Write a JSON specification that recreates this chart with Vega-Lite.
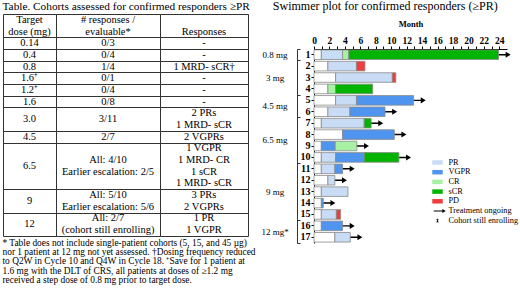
{
  "$schema": "https://vega.github.io/schema/vega-lite/v6.json",
  "background": "white",
  "padding": {"left": 2, "top": 0, "right": 0, "bottom": 0},
  "spacing": 4,
  "datasets": {
    "table": [
      {"col": "dose", "line": 0.5, "text": "Target"},
      {"col": "dose", "line": 1.5, "text": "dose (mg)"},
      {"col": "dose", "line": 2.5, "text": "0.14"},
      {"col": "dose", "line": 3.5, "text": "0.4"},
      {"col": "dose", "line": 4.5, "text": "0.8"},
      {"col": "dose", "line": 5.5, "text": "1.6⁺"},
      {"col": "dose", "line": 6.5, "text": "1.2⁺"},
      {"col": "dose", "line": 7.5, "text": "1.6"},
      {"col": "dose", "line": 9, "text": "3.0"},
      {"col": "dose", "line": 10.5, "text": "4.5"},
      {"col": "dose", "line": 13, "text": "6.5"},
      {"col": "dose", "line": 16, "text": "9"},
      {"col": "dose", "line": 18, "text": "12"},
      {"col": "n", "line": 0.5, "text": "# responses /"},
      {"col": "n", "line": 1.5, "text": "evaluable*"},
      {"col": "n", "line": 2.5, "text": "0/3"},
      {"col": "n", "line": 3.5, "text": "0/4"},
      {"col": "n", "line": 4.5, "text": "1/4"},
      {"col": "n", "line": 5.5, "text": "0/1"},
      {"col": "n", "line": 6.5, "text": "0/4"},
      {"col": "n", "line": 7.5, "text": "0/8"},
      {"col": "n", "line": 9, "text": "3/11"},
      {"col": "n", "line": 10.5, "text": "2/7"},
      {"col": "n", "line": 12.5, "text": "All: 4/10"},
      {"col": "n", "line": 13.5, "text": "Earlier escalation: 2/5"},
      {"col": "n", "line": 15.5, "text": "All: 5/10"},
      {"col": "n", "line": 16.5, "text": "Earlier escalation: 5/6"},
      {"col": "n", "line": 17.5, "text": "All: 2/7"},
      {"col": "n", "line": 18.5, "text": "(cohort still enrolling)"},
      {"col": "resp", "line": 1.5, "text": "Responses"},
      {"col": "resp", "line": 2.5, "text": "-"},
      {"col": "resp", "line": 3.5, "text": "-"},
      {"col": "resp", "line": 4.5, "text": "1 MRD- sCR†"},
      {"col": "resp", "line": 5.5, "text": "-"},
      {"col": "resp", "line": 6.5, "text": "-"},
      {"col": "resp", "line": 7.5, "text": "-"},
      {"col": "resp", "line": 8.5, "text": "2 PRs"},
      {"col": "resp", "line": 9.5, "text": "1 MRD- sCR"},
      {"col": "resp", "line": 10.5, "text": "2 VGPRs"},
      {"col": "resp", "line": 11.5, "text": "1 VGPR"},
      {"col": "resp", "line": 12.5, "text": "1 MRD- CR"},
      {"col": "resp", "line": 13.5, "text": "1 sCR"},
      {"col": "resp", "line": 14.5, "text": "1 MRD- sCR"},
      {"col": "resp", "line": 15.5, "text": "3 PRs"},
      {"col": "resp", "line": 16.5, "text": "2 VGPRs"},
      {"col": "resp", "line": 17.5, "text": "1 PR"},
      {"col": "resp", "line": 18.5, "text": "1 VGPR"}
    ],
    "groups": [
      {"dose": "0.8 mg", "mid": 1},
      {"dose": "3 mg", "mid": 3},
      {"dose": "4.5 mg", "mid": 5.5},
      {"dose": "6.5 mg", "mid": 8.5},
      {"dose": "9 mg", "mid": 13},
      {"dose": "12 mg*", "mid": 16.5}
    ],
    "segments": [
      {"pt": 1, "status": "none", "start": 0, "end": 0.95},
      {"pt": 1, "status": "PR", "start": 0.95, "end": 3.7},
      {"pt": 1, "status": "CR", "start": 3.7, "end": 4.5},
      {"pt": 1, "status": "sCR", "start": 4.5, "end": 23.9},
      {"pt": 2, "status": "none", "start": 0, "end": 1.8},
      {"pt": 2, "status": "PR", "start": 1.8, "end": 5.5},
      {"pt": 2, "status": "PD", "start": 5.5, "end": 6.6},
      {"pt": 3, "status": "none", "start": 0, "end": 2.8},
      {"pt": 3, "status": "PR", "start": 2.8, "end": 10.15},
      {"pt": 3, "status": "PD", "start": 10.15, "end": 10.6},
      {"pt": 4, "status": "none", "start": 0, "end": 1.8},
      {"pt": 4, "status": "CR", "start": 1.8, "end": 2.8},
      {"pt": 4, "status": "sCR", "start": 2.8, "end": 7.6},
      {"pt": 5, "status": "none", "start": 0, "end": 2.8},
      {"pt": 5, "status": "PR", "start": 2.8, "end": 5.5},
      {"pt": 5, "status": "VGPR", "start": 5.5, "end": 12.9},
      {"pt": 6, "status": "none", "start": 0, "end": 1.8},
      {"pt": 6, "status": "PR", "start": 1.8, "end": 4.65},
      {"pt": 6, "status": "VGPR", "start": 4.65, "end": 9.2},
      {"pt": 7, "status": "none", "start": 0, "end": 0.95},
      {"pt": 7, "status": "PR", "start": 0.95, "end": 6.5},
      {"pt": 7, "status": "sCR", "start": 6.5, "end": 7.4},
      {"pt": 8, "status": "none", "start": 0, "end": 3.7},
      {"pt": 8, "status": "VGPR", "start": 3.7, "end": 10.4},
      {"pt": 9, "status": "none", "start": 0, "end": 0.95},
      {"pt": 9, "status": "VGPR", "start": 0.95, "end": 2.75},
      {"pt": 9, "status": "CR", "start": 2.75, "end": 5.55},
      {"pt": 10, "status": "none", "start": 0, "end": 0.95},
      {"pt": 10, "status": "PR", "start": 0.95, "end": 2.8},
      {"pt": 10, "status": "VGPR", "start": 2.8, "end": 6.5},
      {"pt": 10, "status": "sCR", "start": 6.5, "end": 11.0},
      {"pt": 11, "status": "none", "start": 0, "end": 0.95},
      {"pt": 11, "status": "PR", "start": 0.95, "end": 2.7},
      {"pt": 11, "status": "VGPR", "start": 2.7, "end": 3.7},
      {"pt": 12, "status": "none", "start": 0, "end": 1.8},
      {"pt": 12, "status": "PR", "start": 1.8, "end": 2.7},
      {"pt": 13, "status": "none", "start": 0, "end": 0.95},
      {"pt": 13, "status": "PR", "start": 0.95, "end": 4.4},
      {"pt": 14, "status": "none", "start": 0, "end": 0.95},
      {"pt": 14, "status": "VGPR", "start": 0.95, "end": 1.2},
      {"pt": 15, "status": "none", "start": 0, "end": 0.95},
      {"pt": 15, "status": "PR", "start": 0.95, "end": 2.9},
      {"pt": 15, "status": "PD", "start": 2.9, "end": 3.45},
      {"pt": 16, "status": "none", "start": 0, "end": 0.95},
      {"pt": 16, "status": "VGPR", "start": 0.95, "end": 3.7},
      {"pt": 17, "status": "none", "start": 0, "end": 2.7},
      {"pt": 17, "status": "PR", "start": 2.7, "end": 4.7}
    ],
    "arrows": [
      {"pt": 1, "end": 23.9, "status": "Treatment ongoing"},
      {"pt": 5, "end": 12.9, "status": "Treatment ongoing"},
      {"pt": 6, "end": 9.2, "status": "Treatment ongoing"},
      {"pt": 7, "end": 7.4, "status": "Treatment ongoing"},
      {"pt": 8, "end": 10.4, "status": "Treatment ongoing"},
      {"pt": 9, "end": 5.55, "status": "Treatment ongoing"},
      {"pt": 10, "end": 11.0, "status": "Treatment ongoing"},
      {"pt": 11, "end": 3.7, "status": "Treatment ongoing"},
      {"pt": 12, "end": 2.7, "status": "Treatment ongoing"},
      {"pt": 14, "end": 1.2, "status": "Treatment ongoing"},
      {"pt": 16, "end": 3.7, "status": "Treatment ongoing"},
      {"pt": 17, "end": 4.7, "status": "Treatment ongoing"}
    ],
    "spacer": [{}]
  },
  "hconcat": [
    {
      "title": {"text": "Table. Cohorts assessed for confirmed responders ≥PR", "anchor": "start", "fontSize": 11.3, "offset": 1},
      "vconcat": [
        {
          "title": {
            "text": [
              "* Table does not include single-patient cohorts (5, 15, and 45 µg)",
              "nor 1 patient at 12 mg not yet assessed. †Dosing frequency reduced",
              "to Q2W in Cycle 10 and Q4W in Cycle 18. ⁺Save for 1 patient at",
              "1.6 mg with the DLT of CRS, all patients at doses of ≥1.2 mg",
              "received a step dose of 0.8 mg prior to target dose."
            ],
            "orient": "bottom", "anchor": "start", "fontSize": 9.4, "lineHeight": 9.4, "offset": 2
          },
          "bounds": "flush",
          "spacing": 0,
          "hconcat": [
            {
              "width": 53, "height": 222,
              "view": {"stroke": "#333", "strokeWidth": 1},
              "data": {"name": "table"},
              "transform": [{"filter": "datum.col === 'dose'"}],
              "mark": {"type": "text", "fontSize": 10.5, "font": "Liberation Serif", "color": "black"},
              "encoding": {
                "y": {"field": "line", "type": "quantitative", "scale": {"domain": [0, 19], "reverse": true, "nice": false, "zero": false},
                  "axis": {"values": [2, 3, 4, 5, 6, 7, 8, 10, 11, 15, 17], "grid": true, "gridColor": "#333", "gridOpacity": 1, "labels": false, "ticks": false, "domain": false, "title": null}},
                "text": {"field": "text", "type": "nominal"}
              }
            },
            {
              "width": 104, "height": 222,
              "view": {"stroke": "#333", "strokeWidth": 1},
              "data": {"name": "table"},
              "transform": [{"filter": "datum.col === 'n'"}],
              "mark": {"type": "text", "fontSize": 10.5, "font": "Liberation Serif", "color": "black"},
              "encoding": {
                "y": {"field": "line", "type": "quantitative", "scale": {"domain": [0, 19], "reverse": true, "nice": false, "zero": false},
                  "axis": {"values": [2, 3, 4, 5, 6, 7, 8, 10, 11, 15, 17], "grid": true, "gridColor": "#333", "gridOpacity": 1, "labels": false, "ticks": false, "domain": false, "title": null}},
                "text": {"field": "text", "type": "nominal"}
              }
            },
            {
              "width": 88, "height": 222,
              "view": {"stroke": "#333", "strokeWidth": 1},
              "data": {"name": "table"},
              "transform": [{"filter": "datum.col === 'resp'"}],
              "mark": {"type": "text", "fontSize": 10.5, "font": "Liberation Serif", "color": "black"},
              "encoding": {
                "y": {"field": "line", "type": "quantitative", "scale": {"domain": [0, 19], "reverse": true, "nice": false, "zero": false},
                  "axis": {"values": [2, 3, 4, 5, 6, 7, 8, 10, 11, 15, 17], "grid": true, "gridColor": "#333", "gridOpacity": 1, "labels": false, "ticks": false, "domain": false, "title": null}},
                "text": {"field": "text", "type": "nominal"}
              }
            }
          ]
        }
      ]
    },
    {
      "title": {"text": "Swimmer plot for confirmed responders (≥PR)", "anchor": "middle", "fontSize": 12, "offset": 1},
      "spacing": 4,
      "vconcat": [
        {
          "width": 1, "height": 1,
          "data": {"name": "spacer"},
          "mark": {"type": "point", "size": 0, "opacity": 0},
          "encoding": {}
        },
        {
          "bounds": "flush",
          "spacing": 24,
          "hconcat": [
            {
              "width": 30, "height": 194,
              "data": {"name": "groups"},
              "mark": {"type": "text", "fontSize": 9, "font": "Liberation Serif", "color": "black"},
              "encoding": {
                "y": {"field": "mid", "type": "quantitative", "scale": {"domain": [0.5, 17.5], "reverse": true, "nice": false, "zero": false},
                  "axis": {"orient": "right", "values": [0.5, 1.5, 4.5, 6.5, 10.5, 15.5, 17.5], "labels": false, "ticks": true, "tickSize": 3, "domain": true, "grid": false, "title": null, "offset": 7, "domainColor": "#333", "tickColor": "#333"}},
                "text": {"field": "dose", "type": "nominal"}
              }
            },
            {
              "width": 193, "height": 194,
              "layer": [
                {
                  "data": {"name": "arrows"},
                  "mark": {"type": "point", "filled": true, "size": 121, "opacity": 1, "strokeWidth": 0},
                  "encoding": {
                    "x": {"field": "end", "type": "quantitative", "scale": {"domain": [0, 25], "nice": false},
                      "axis": {"orient": "top", "values": [0, 1, 2, 3, 4, 5, 6, 7, 8, 9, 10, 11, 12, 13, 14, 15, 16, 17, 18, 19, 20, 21, 22, 23, 24],
                        "labelExpr": "datum.value % 2 === 0 ? datum.label : ''", "title": "Month",
                        "titleFont": "Liberation Serif", "titleFontWeight": "bold", "titleFontSize": 8.5, "titlePadding": 7,
                        "labelFont": "Liberation Serif", "labelFontWeight": "bold", "labelFontSize": 9.5, "labelPadding": 1,
                        "tickSize": 3, "grid": false, "labelFlush": false, "labelOverlap": false}},
                    "y": {"field": "pt", "type": "ordinal"},
                    "color": {"field": "status", "type": "nominal",
                      "scale": {"domain": ["PR", "VGPR", "CR", "sCR", "PD", "Treatment ongoing", "Cohort still enrolling"], "range": ["#c8dcf5", "#4f95ef", "#a8f0a4", "#00b400", "#f03c3c", "#000000", "#000000"]},
                      "legend": {"title": null, "orient": "none", "legendX": 430, "legendY": 144}},
                    "shape": {"field": "status", "type": "nominal",
                      "scale": {"domain": ["PR", "VGPR", "CR", "sCR", "PD", "Treatment ongoing", "Cohort still enrolling"],
                        "range": ["M-1.4,-0.6H1.4V0.6H-1.4Z", "M-1.4,-0.6H1.4V0.6H-1.4Z", "M-1.4,-0.6H1.4V0.6H-1.4Z", "M-1.4,-0.6H1.4V0.6H-1.4Z", "M-1.4,-0.6H1.4V0.6H-1.4Z", "M-1,-0.13H1.3V-0.55L2.2,0L1.3,0.55V0.13H-1Z", "M-0.08,-0.5H0.08V0.5H-0.08Z M0.181,0.473L-0.319,-0.393L-0.181,-0.473L0.319,0.393Z M-0.181,0.473L-0.319,0.393L0.181,-0.473L0.319,-0.393Z"]},
                      "legend": {"title": null, "orient": "none", "legendX": 430, "legendY": 144}}
                  }
                },
                {
                  "data": {"name": "segments"},
                  "transform": [{"filter": "datum.status === 'none'"}],
                  "mark": {"type": "bar", "fill": "white", "stroke": "#8a8a8a", "strokeWidth": 0.8},
                  "encoding": {
                    "x": {"field": "start", "type": "quantitative", "scale": {"domain": [0, 25], "nice": false},
                      "axis": {"orient": "top", "values": [0, 1, 2, 3, 4, 5, 6, 7, 8, 9, 10, 11, 12, 13, 14, 15, 16, 17, 18, 19, 20, 21, 22, 23, 24],
                        "labelExpr": "datum.value % 2 === 0 ? datum.label : ''", "title": "Month",
                        "titleFont": "Liberation Serif", "titleFontWeight": "bold", "titleFontSize": 8.5, "titlePadding": 7,
                        "labelFont": "Liberation Serif", "labelFontWeight": "bold", "labelFontSize": 9.5, "labelPadding": 1,
                        "tickSize": 3, "grid": false, "labelFlush": false, "labelOverlap": false}},
                    "x2": {"field": "end"},
                    "y": {"field": "pt", "type": "ordinal"}
                  }
                },
                {
                  "data": {"name": "segments"},
                  "transform": [{"filter": "datum.status !== 'none'"}],
                  "mark": {"type": "bar", "stroke": "#8a8a8a", "strokeWidth": 0.8},
                  "encoding": {
                    "x": {"field": "start", "type": "quantitative", "scale": {"domain": [0, 25], "nice": false},
                      "axis": {"orient": "top", "values": [0, 1, 2, 3, 4, 5, 6, 7, 8, 9, 10, 11, 12, 13, 14, 15, 16, 17, 18, 19, 20, 21, 22, 23, 24],
                        "labelExpr": "datum.value % 2 === 0 ? datum.label : ''", "title": "Month",
                        "titleFont": "Liberation Serif", "titleFontWeight": "bold", "titleFontSize": 8.5, "titlePadding": 7,
                        "labelFont": "Liberation Serif", "labelFontWeight": "bold", "labelFontSize": 9.5, "labelPadding": 1,
                        "tickSize": 3, "grid": false, "labelFlush": false, "labelOverlap": false}},
                    "x2": {"field": "end"},
                    "y": {"field": "pt", "type": "ordinal", "scale": {"paddingInner": 0.16, "paddingOuter": 0.08},
                      "axis": {"title": null, "labelFont": "Liberation Serif", "labelFontWeight": "bold", "labelFontSize": 10, "tickSize": 3, "labelPadding": 1, "grid": false, "labelAngle": 0}},
                    "color": {"field": "status", "type": "nominal",
                      "scale": {"domain": ["PR", "VGPR", "CR", "sCR", "PD", "Treatment ongoing", "Cohort still enrolling"], "range": ["#c8dcf5", "#4f95ef", "#a8f0a4", "#00b400", "#f03c3c", "#000000", "#000000"]},
                      "legend": {"title": null, "orient": "none", "legendX": 430, "legendY": 144}}
                  }
                }
              ]
            }
          ]
        }
      ]
    }
  ],
  "config": {
    "font": "Liberation Serif",
    "view": {"stroke": null},
    "title": {"font": "Liberation Serif", "fontWeight": "normal", "color": "black"},
    "axis": {"domainColor": "black", "tickColor": "black", "labelColor": "black", "titleColor": "black"},
    "legend": {
      "labelFont": "Liberation Serif", "labelFontSize": 8.3, "labelColor": "black",
      "symbolSize": 56, "symbolStrokeColor": "#888", "symbolStrokeWidth": 0.8, "symbolOpacity": 1,
      "rowPadding": -0.3, "labelOffset": 6.5
    }
  }
}
